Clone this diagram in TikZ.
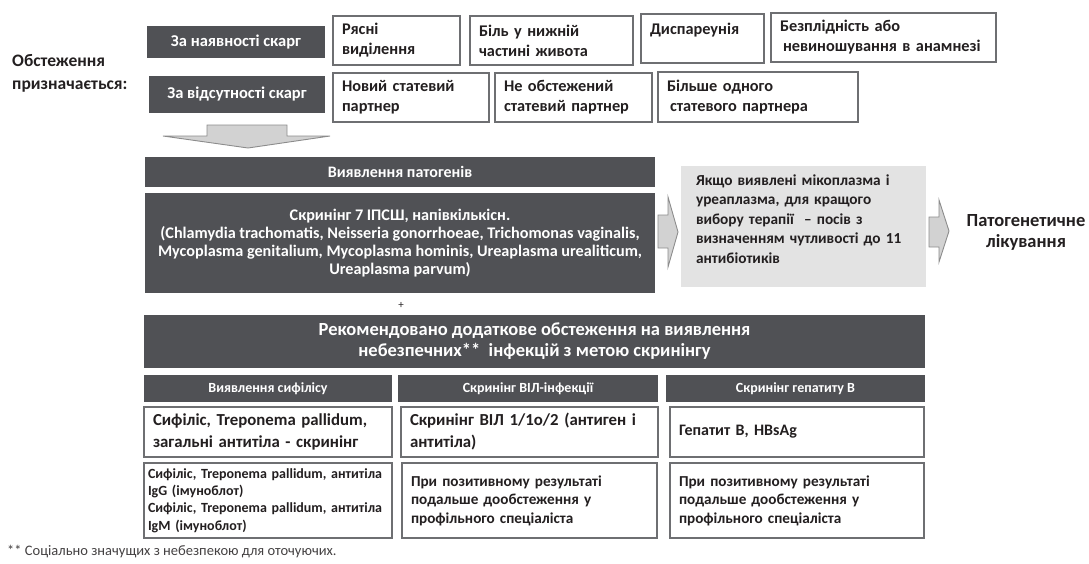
\documentclass[tikz,border=0pt]{standalone}
\usepackage{fontspec}
\setmainfont{Carlito}
\definecolor{dkgray}{HTML}{505155}
\definecolor{bord}{HTML}{6E6F72}
\definecolor{lgray}{HTML}{E3E3E3}
\definecolor{arrfill}{HTML}{D2D2D2}
\definecolor{arrline}{HTML}{8C8C8C}
\definecolor{txt}{HTML}{231F20}
\newcommand\myfs[2]{\fontsize{#1pt}{#2pt}\selectfont}
\begin{document}
\begin{tikzpicture}[x=1pt,y=-1pt,
  darkbox/.style={fill=dkgray, text=white, inner sep=0pt, align=center, font=\bfseries\myfs{16.5}{19}},
  wbox/.style={draw=bord, line width=2.4pt, fill=white, text=txt, align=left, inner xsep=9pt, inner ysep=0pt, font=\bfseries\myfs{16.3}{20}},
  plain/.style={text=txt, inner sep=0pt},
  blockarrow/.style={fill=arrfill, draw=arrline, line width=0.9pt, line join=miter}
]
\useasboundingbox (0,0) rectangle (1089,563);

% left label
\node[plain, anchor=west, align=left, font=\bfseries\myfs{17.5}{23}] (obst) at (12,73.5) {Обстеження\\призначається:};

% dark boxes top
\node[darkbox, minimum width=178pt, minimum height=32pt] (sk1) at (236,42) {За наявності скарг};
\node[darkbox, minimum width=176pt, minimum height=37pt] (sk2) at (237,94.5) {За відсутності скарг};

% top row
\node[wbox, text width=109pt, minimum height=49pt] (ryasni) at (396.5,40.5) {Рясні\\виділення};
\node[wbox, text width=145pt, minimum height=49pt] (bil) at (551.5,40.5) {Біль у нижній\\частині живота};
\node[wbox, text width=105pt, minimum height=49pt] (disp) at (702.5,38.5) {Диспареунія\\\mbox{}};
\node[wbox, text width=207pt, minimum height=49pt] (bezpl) at (883.5,37.5) {Безплідність або\\\hspace*{3pt}невиношування в анамнезі};
% second row
\node[wbox, text width=138pt, minimum height=49pt] (novyi) at (411,97.5) {Новий статевий\\партнер};
\node[wbox, text width=139pt, minimum height=49pt] (neob) at (573.5,97.5) {Не обстежений\\статевий партнер};
\node[wbox, text width=182pt, minimum height=50pt] (bilshe) at (758,97) {Більше одного\\\hspace*{3pt}статевого партнера};

% down arrow
\draw[blockarrow] (207,125) -- (287,125) -- (287,136) -- (330,136) -- (248,148) -- (163,136) -- (207,136) -- cycle;

% pathogens
\node[darkbox, minimum width=510pt, minimum height=30pt, font=\bfseries\myfs{16}{19}] (vyyav) at (400,172) {Виявлення патогенів};
\node[darkbox, minimum width=510pt, minimum height=100pt, font=\bfseries\myfs{16.2}{18}] (scr) at (400,243) {Скринінг 7 ІПСШ, напівкількісн.\\(Chlamydia trachomatis, Neisseria gonorrhoeae, Trichomonas vaginalis,\\Mycoplasma genitalium, Mycoplasma hominis, Ureaplasma urealiticum,\\Ureaplasma parvum)};

% right arrow 1
\draw[blockarrow] (658,215) -- (668,215) -- (668,197) -- (678,232) -- (668,267) -- (668,248) -- (658,248) -- cycle;

% gray box
\node[fill=lgray, text=txt, align=left, inner xsep=15pt, inner ysep=0pt, text width=215pt, minimum height=121pt, font=\bfseries\myfs{15.3}{19.5}] (gray) at (803.5,226.5) {Якщо виявлені мікоплазма і\\уреаплазма, для кращого\\вибору терапії\ \ – посів з\\визначенням чутливості до 11\\антибіотиків\\[-4pt]\mbox{}};

% right arrow 2
\draw[blockarrow] (929,217) -- (939,217) -- (939,200) -- (949,231) -- (939,262) -- (939,247) -- (929,247) -- cycle;

\node[plain, align=center, font=\bfseries\myfs{18.5}{21}] (lik) at (1026,232) {Патогенетичне\\лікування};

% plus
\node[plain, font=\myfs{11}{12}] (plus) at (401,305) {+};

% recommended bar
\node[darkbox, minimum width=781pt, minimum height=53pt, font=\bfseries\myfs{18.5}{21}] (bar) at (534.5,341.5) {Рекомендовано додаткове обстеження на виявлення\\небезпечних**\ \ інфекцій з метою скринінгу};

% column headers
\node[darkbox, minimum width=248pt, minimum height=27pt, font=\bfseries\myfs{14}{16}] (h1) at (268,388.5) {Виявлення сифілісу};
\node[darkbox, minimum width=260pt, minimum height=27pt, font=\bfseries\myfs{14}{16}] (h2) at (528,388.5) {Скринінг ВІЛ-інфекції};
\node[darkbox, minimum width=259pt, minimum height=27pt, font=\bfseries\myfs{14}{16}] (h3) at (795.5,388.5) {Скринінг гепатиту В};

% column boxes row 1
\node[wbox, text width=230pt, minimum height=50pt, font=\bfseries\myfs{16.8}{22}] (b11) at (268,432) {Сифіліс, Treponema pallidum,\\загальні антитіла - скринінг};
\node[wbox, text width=239pt, minimum height=50pt, font=\bfseries\myfs{16.8}{22}] (b21) at (529.5,432) {Скринінг ВІЛ 1/1о/2 (антиген і\\антитіла)};
\node[wbox, text width=236pt, minimum height=50pt, font=\bfseries\myfs{16}{20}] (b31) at (797,432) {Гепатит В, HBsAg};

% column boxes row 2
\node[wbox, inner xsep=4pt, text width=240pt, minimum height=75pt, font=\bfseries\myfs{14}{17.4}] (b12) at (268,500.5) {Сифіліс, Treponema pallidum, антитіла\\IgG (імуноблот)\\Сифіліс, Treponema pallidum, антитіла\\IgM (імуноблот)};
\node[wbox, text width=237pt, minimum height=75pt, font=\bfseries\myfs{15.2}{18.5}] (b22) at (529.5,500.5) {При позитивному результаті\\подальше дообстеження у\\профільного спеціаліста};
\node[wbox, text width=236pt, minimum height=75pt, font=\bfseries\myfs{15.2}{18.5}] (b32) at (797,500.5) {При позитивному результаті\\подальше дообстеження у\\профільного спеціаліста};

% footnote
\node[plain, anchor=west, font=\myfs{14.5}{16}, text=txt!85] (foot) at (7,552) {** Соціально значущих з небезпекою для оточуючих.};
\end{tikzpicture}
\end{document}
